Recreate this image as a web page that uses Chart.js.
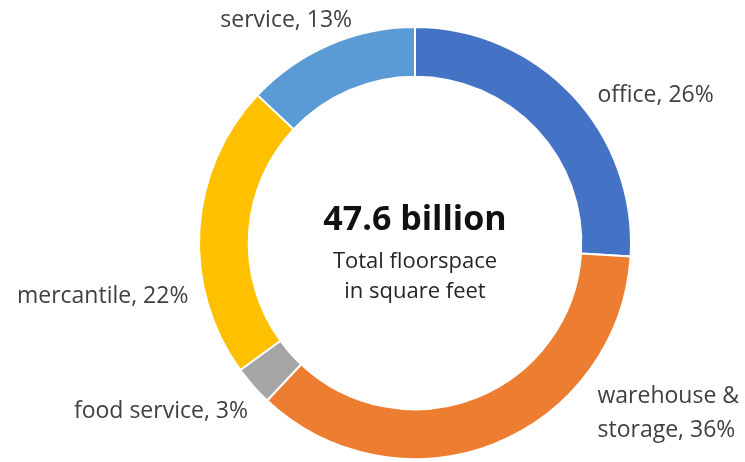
<!DOCTYPE html>
<html>
<head>
<meta charset="utf-8">
<script src="https://cdn.jsdelivr.net/npm/chart.js@4/dist/chart.umd.min.js"></script>
<style>
  html, body { margin: 0; padding: 0; background: #fff; }
  #wrap { width: 745px; height: 462px; }
</style>
</head>
<body>
<div id="wrap"><canvas id="floor"></canvas></div>
<script>
const categories = ["office", "warehouse &\nstorage", "food service", "mercantile", "service"];
const shares = [26, 36, 3, 22, 13];
const colors = ["#4472C4", "#ED7D31", "#A5A5A5", "#FFC000", "#5B9BD5"];
const totalLabel = "47.6 billion";
const totalCaption = ["Total floorspace", "in square feet"];

// nudges from each slice's outer midpoint to where its label sits
const labelNudge = [
  { dx: 25, dy: 0, align: "left" },
  { dx: 103, dy: -47, align: "left" },
  { dx: -5, dy: 26, align: "right" },
  { dx: -11, dy: 67, align: "right" },
  { dx: -43, dy: -24, align: "center" },
];

const sliceLabels = {
  id: "sliceLabels",
  afterDraw(chart) {
    const ctx = chart.ctx;
    const meta = chart.getDatasetMeta(0);
    ctx.save();
    ctx.font = "23px 'Open Sans'";
    ctx.fillStyle = "#404040";
    ctx.textBaseline = "middle";
    meta.data.forEach((arc, i) => {
      const mid = (arc.startAngle + arc.endAngle) / 2;
      const x = arc.x + Math.cos(mid) * arc.outerRadius + labelNudge[i].dx;
      const y = arc.y + Math.sin(mid) * arc.outerRadius + labelNudge[i].dy;
      const lines = (categories[i] + ", " + shares[i] + "%").split("\n");
      ctx.textAlign = labelNudge[i].align;
      lines.forEach((t, k) => ctx.fillText(t, x, y + k * 34));
    });

    // total in the hole
    const cx = meta.data[0].x;
    const cy = meta.data[0].y;
    ctx.textAlign = "center";
    ctx.fillStyle = "#111";
    ctx.font = "bold 34px 'Open Sans'";
    ctx.fillText(totalLabel, cx, cy - 23);
    ctx.fillStyle = "#262626";
    ctx.font = "22px 'Open Sans'";
    ctx.fillText(totalCaption[0], cx, cy + 19);
    ctx.fillText(totalCaption[1], cx, cy + 49);
    ctx.restore();
  },
};

new Chart(document.getElementById("floor"), {
  type: "doughnut",
  data: {
    labels: categories,
    datasets: [
      {
        data: shares,
        backgroundColor: colors,
        borderColor: "#ffffff",
        borderWidth: 2,
      },
    ],
  },
  options: {
    responsive: true,
    maintainAspectRatio: false,
    animation: false,
    cutout: "77%",
    layout: {
      padding: { top: 26, bottom: 2, left: 198, right: 113 },
    },
    plugins: {
      legend: { display: false },
      tooltip: { enabled: false },
    },
  },
  plugins: [sliceLabels],
});
</script>
</body>
</html>
